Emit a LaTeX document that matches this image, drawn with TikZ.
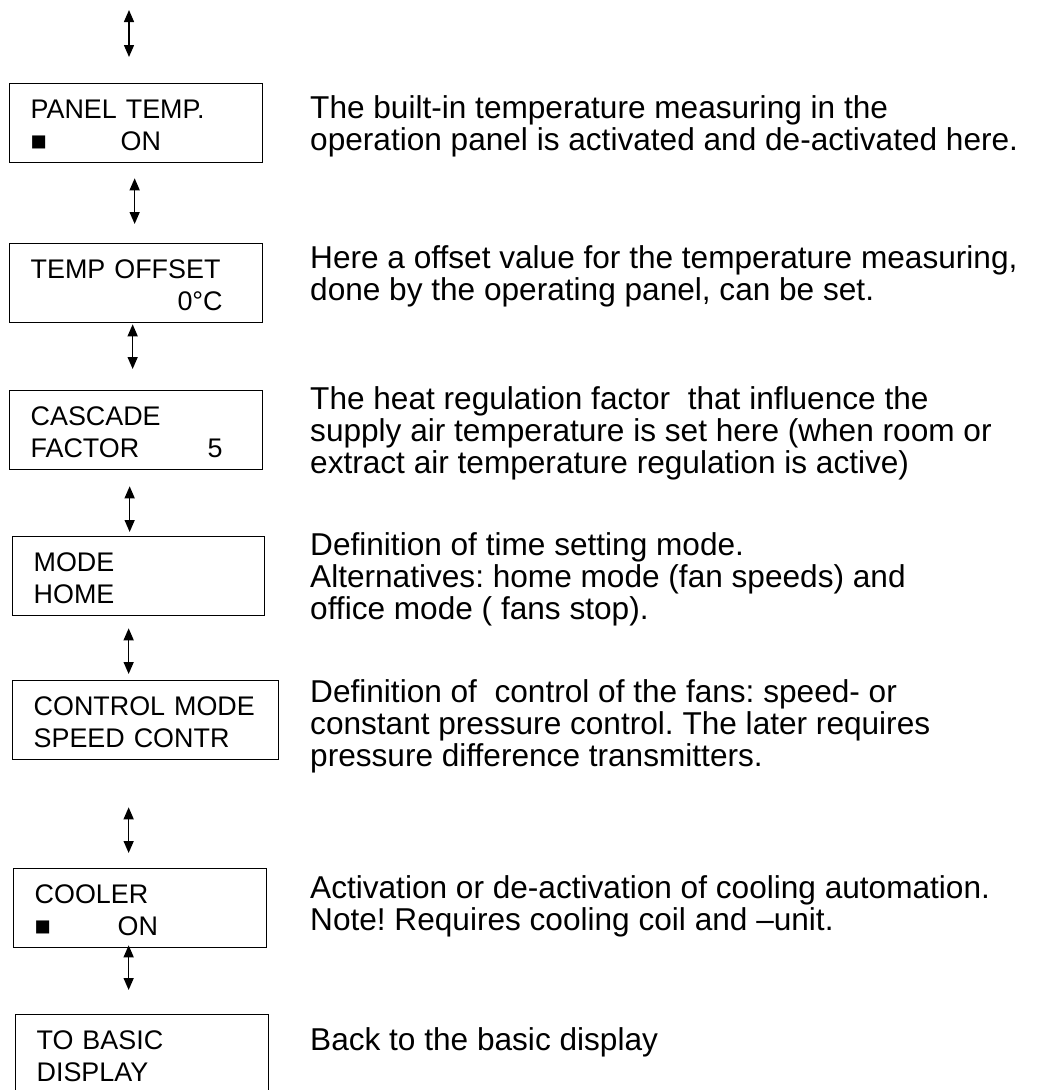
\documentclass[tikz,border=0pt]{standalone}
\usepackage{fontspec}
\setmainfont{Liberation Sans}
\usetikzlibrary{arrows.meta}
\frenchspacing

\begin{document}
\begin{tikzpicture}[x=1pt,y=-1pt,
    panel/.style={draw,line width=1.3pt,anchor=north west,inner xsep=21pt,inner ysep=0pt,
        text height=35pt,text depth=44pt,align=left,font=\fontsize{26.9}{32}\selectfont},
    note/.style={anchor=north west,inner sep=0pt,align=left,font=\fontsize{31.6}{31.7}\selectfont},
    nav/.style={{Triangle[length=12pt,width=10pt]}-{Triangle[length=12pt,width=10pt]},line width=1.4pt}]
    \useasboundingbox (0,0) rectangle (1040,1090);

    % 显示框
    \node[panel,text width=211pt] (p1) at (9,83) {PANEL TEMP.\\\makebox[90pt][l]{■}ON};
    \node[panel,text width=211pt] (p2) at (9,243) {TEMP OFFSET\\\makebox[192pt][r]{0°C}};
    \node[panel,text width=211pt] (p3) at (9,390) {CASCADE\\\makebox[177pt][l]{FACTOR}5};
    \node[panel,text width=210pt] (p4) at (12,536) {MODE\\HOME};
    \node[panel,text width=224pt] (p5) at (12,680) {CONTROL MODE\\SPEED CONTR};
    \node[panel,text width=211pt] (p6) at (13,868) {COOLER\\\makebox[83pt][l]{■}ON};
    \node[panel,text width=211pt] (p7) at (15,1014) {TO BASIC\\DISPLAY};

    % 说明
    \node[note] (d1) at (310,95.5) {The built-in temperature measuring in the\\operation panel is activated and de-activated here.};
    \node[note] (d2) at (310,245.5) {Here a offset value for the temperature measuring,\\done by the operating panel, can be set.};
    \node[note] (d3) at (310,386.5) {The heat regulation factor\ \ that influence the\\supply air temperature is set here (when room or\\extract air temperature regulation is active)};
    \node[note] (d4) at (310,532.5) {Definition of time setting mode.\\Alternatives: home mode (fan speeds) and\\office mode ( fans stop).};
    \node[note] (d5) at (310,679.5) {Definition of\ \ control of the fans: speed- or\\constant pressure control. The later requires\\pressure difference transmitters.};
    \node[note] (d6) at (310,875.5) {Activation or de-activation of cooling automation.\\Note! Requires cooling coil and –unit.};
    \node[note] (d7) at (310,1027.5) {Back to the basic display};

    % 箭头
    \coordinate (top) at (129,10);
    \draw[nav,shorten >=26pt] (top) -- (top |- p1.north);
    \draw[nav,shorten <=15pt,shorten >=19pt] ([xshift=-1.5pt]p1.south) -- ([xshift=-1.5pt]p1.south |- p2.north);
    \draw[nav,shorten <=1pt,shorten >=21pt] ([xshift=-3.5pt]p2.south) -- ([xshift=-3.5pt]p2.south |- p3.north);
    \draw[nav,shorten <=16pt,shorten >=4pt] ([xshift=-6.5pt]p3.south) -- ([xshift=-6.5pt]p3.south |- p4.north);
    \draw[nav,shorten <=12pt,shorten >=6pt] ([xshift=-10pt]p4.south) -- ([xshift=-10pt]p4.south |- p5.north);
    \draw[nav,shorten <=47pt,shorten >=15pt] ([xshift=-17pt]p5.south) -- ([xshift=-17pt]p5.south |- p6.north);
    \draw[nav,shorten <=-3pt,shorten >=24pt] ([xshift=-11.5pt]p6.south) -- ([xshift=-11.5pt]p6.south |- p7.north);
\end{tikzpicture}
\end{document}
